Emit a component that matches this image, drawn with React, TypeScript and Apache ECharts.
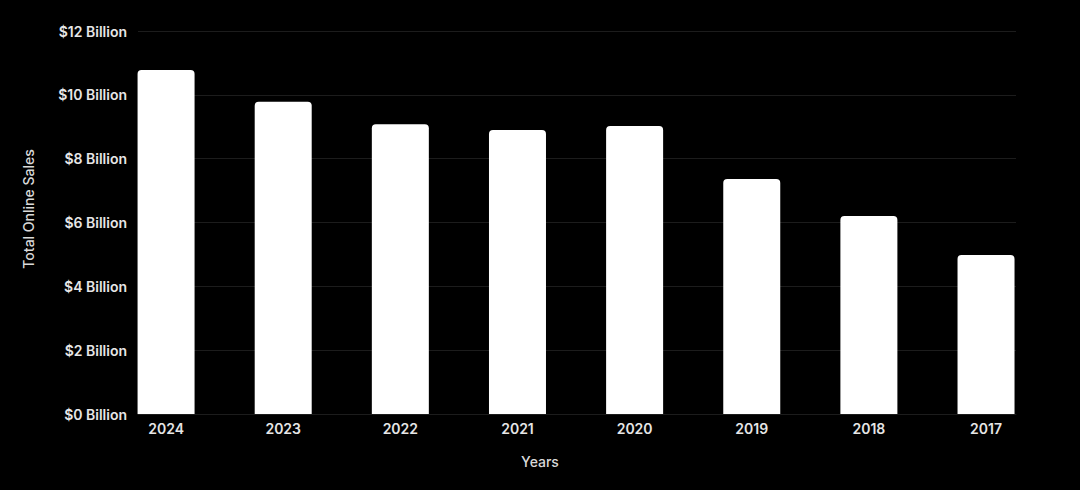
import React, { useEffect, useRef } from "react";
import * as echarts from "echarts";

const years = ["2024", "2023", "2022", "2021", "2020", "2019", "2018", "2017"];
const sales = [10.78, 9.78, 9.08, 8.9, 9.02, 7.36, 6.2, 4.98];
const yTicks = [0, 2, 4, 6, 8, 10, 12];

export default function App() {
  const ref = useRef<HTMLDivElement>(null);
  useEffect(() => {
    document.body.style.margin = "0";
    document.body.style.background = "#000";
    const chart = echarts.init(ref.current!, null, { renderer: "svg" });
    const font = "Inter, 'Noto Sans', sans-serif";
    chart.setOption({
      animation: false,
      backgroundColor: "#000",
      textStyle: { fontFamily: font },
      grid: [
        { left: 107.5, right: 35.4, top: 31, bottom: 76 },
        { left: 138, right: 64, top: 31, bottom: 76 },
      ],
      xAxis: [
        {
          type: "category",
          gridIndex: 0,
          data: years,
          boundaryGap: true,
          axisLine: { show: false },
          axisTick: { show: false },
          axisLabel: {
            color: "#e6e6e6",
            fontSize: 14,
            fontWeight: 600,
            fontFamily: font,
            margin: 7,
          },
        },
        {
          type: "category",
          gridIndex: 1,
          data: years,
          show: true,
          axisLine: { show: true, lineStyle: { color: "#1c1c1c", width: 1 } },
          axisTick: { show: false },
          axisLabel: { show: false },
        },
      ],
      yAxis: [
        {
          type: "value",
          gridIndex: 0,
          min: 0,
          max: 12,
          interval: 2,
          show: false,
          splitLine: { show: false },
        },
        {
          type: "value",
          gridIndex: 1,
          min: yTicks[0],
          max: yTicks[yTicks.length - 1],
          interval: 2,
          axisLine: { show: false },
          axisTick: { show: false },
          splitLine: { show: true, lineStyle: { color: "#1c1c1c", width: 1 } },
          axisLabel: {
            color: "#e6e6e6",
            fontSize: 14,
            fontWeight: 600,
            fontFamily: font,
            margin: 11,
            formatter: (v: number) => `$${v} Billion`,
          },
        },
      ],
      graphic: [
        {
          type: "text",
          x: 540,
          y: 461,
          style: {
            text: "Years",
            fill: "#d9d9d9",
            fontSize: 14,
            fontWeight: 500,
            fontFamily: font,
            align: "center",
            verticalAlign: "middle",
          },
        },
        {
          type: "text",
          x: 28,
          y: 209,
          rotation: Math.PI / 2,
          style: {
            text: "Total Online Sales",
            fill: "#d9d9d9",
            fontSize: 14,
            fontWeight: 500,
            fontFamily: font,
            align: "center",
            verticalAlign: "middle",
          },
        },
      ],
      series: [
        {
          type: "bar",
          xAxisIndex: 0,
          yAxisIndex: 0,
          data: sales,
          barWidth: 57,
          z: 3,
          itemStyle: { color: "#ffffff", borderRadius: [4, 4, 0, 0] },
        },
      ],
    });
    return () => chart.dispose();
  }, []);
  return <div ref={ref} style={{ width: 1080, height: 490 }} />;
}
